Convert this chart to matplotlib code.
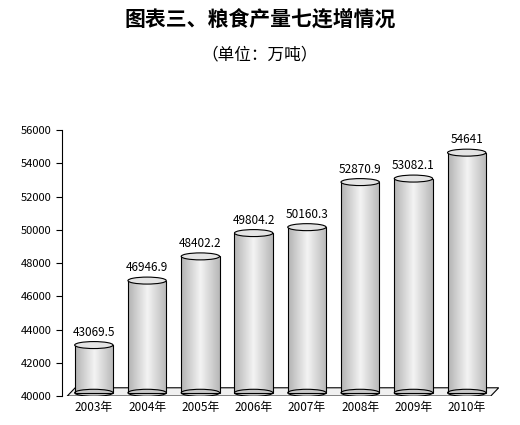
import matplotlib
matplotlib.use("Agg")
import matplotlib.pyplot as plt
import numpy as np
from matplotlib.patches import Ellipse, Polygon

plt.rcParams['font.family'] = ['Noto Sans CJK SC', 'DejaVu Sans']

years = ["2003年", "2004年", "2005年", "2006年", "2007年", "2008年", "2009年", "2010年"]
values = [43069.5, 46946.9, 48402.2, 49804.2, 50160.3, 52870.9, 53082.1, 54641]
labels = ["43069.5", "46946.9", "48402.2", "49804.2", "50160.3", "52870.9", "53082.1", "54641"]

fig = plt.figure(figsize=(5.2, 4.25), dpi=100)
ax = fig.add_axes([0.119, 0.068, 0.84, 0.626])
base = 40000
ax.set_ylim(40000, 56000)
ax.set_xlim(-0.6, 7.6)
w = 0.72
eh = 420
grad = np.tile(np.concatenate([np.linspace(0.7, 0.95, 30), np.linspace(0.95, 0.72, 30)]), (10, 1))
ax.add_patch(Polygon([[-0.5, 40000], [7.45, 40000], [7.6, 40500], [-0.35, 40500]],
                     closed=True, facecolor='#f0f0f0', edgecolor='black', lw=0.8, zorder=1))
for i, v in enumerate(values):
    x0 = i - w / 2
    bar = ax.bar(i, v - base - 200, bottom=base + 200, width=w, color='none', edgecolor='black', lw=0.8, zorder=3)[0]
    im = ax.imshow(grad, cmap='gray', vmin=0, vmax=1, extent=[x0, x0 + w, base + 200, v],
                   aspect='auto', zorder=2)
    im.set_clip_path(bar)
    ax.add_patch(Ellipse((i, base + 200), w, eh, facecolor='#c8c8c8', edgecolor='black', lw=0.8, zorder=2.5))
    ax.add_patch(Ellipse((i, v), w, eh, facecolor='#e4e4e4', edgecolor='black', lw=0.8, zorder=4))
    ax.text(i, v + 380, labels[i], ha='center', va='bottom', fontsize=8.5, zorder=5)
ax.set_yticks(range(40000, 56001, 2000))
ax.tick_params(axis='y', labelsize=8, length=4, direction='out')
ax.set_xticks(range(len(years)))
ax.set_xticklabels(years, fontsize=8.5)
ax.tick_params(axis='x', length=0)
for s in ['top', 'right', 'bottom']:
    ax.spines[s].set_visible(False)
fig.text(0.5, 0.955, "图表三、粮食产量七连增情况", ha='center', va='center', fontsize=15, fontweight='bold')
fig.text(0.5, 0.87, "（单位：万吨）", ha='center', va='center', fontsize=12)
fig.savefig("out.png", dpi=100)
